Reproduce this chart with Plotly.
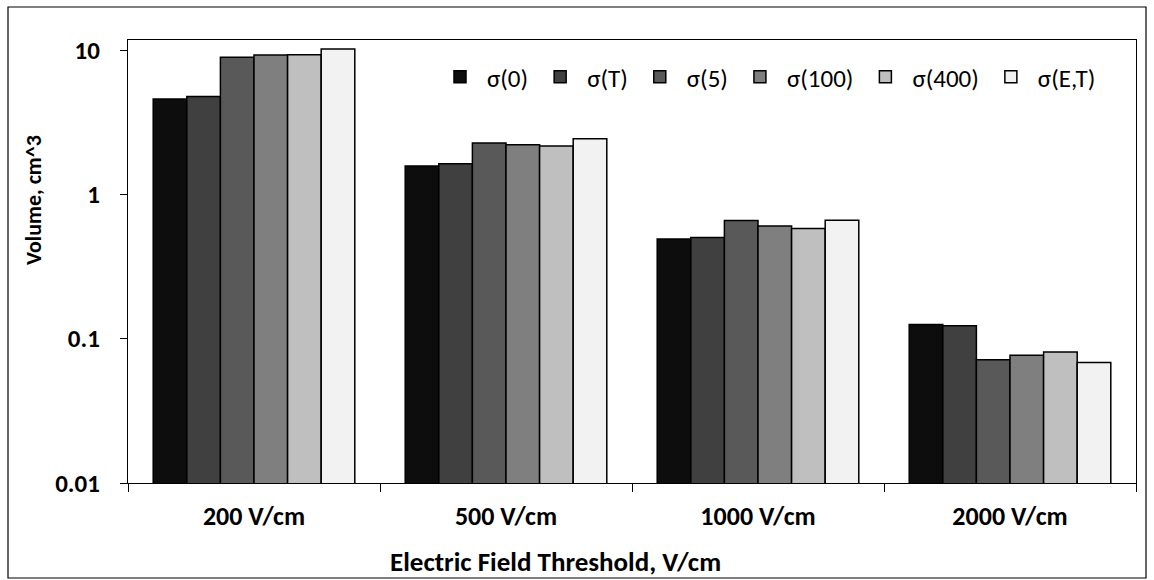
import plotly.graph_objects as go

# Electric field thresholds (categories)
thresholds = ["200 V/cm", "500 V/cm", "1000 V/cm", "2000 V/cm"]

# Volume (cm^3) for each conductivity model
sigma_0 = [4.57, 1.57, 0.49, 0.1256]
sigma_T = [4.76, 1.63, 0.503, 0.123]
sigma_5 = [8.9, 2.27, 0.659, 0.0713]
sigma_100 = [9.24, 2.21, 0.604, 0.0767]
sigma_400 = [9.28, 2.16, 0.58, 0.081]
sigma_ET = [10.16, 2.43, 0.662, 0.0683]

series_names = ["σ(0)", "σ(T)", "σ(5)", "σ(100)", "σ(400)", "σ(E,T)"]
series_values = [sigma_0, sigma_T, sigma_5, sigma_100, sigma_400, sigma_ET]
series_colors = ["#0d0d0d", "#404040", "#595959", "#7f7f7f", "#bfbfbf", "#f2f2f2"]

y_tick_vals = [0.01, 0.1, 1, 10]
y_tick_text = ["0.01", "0.1", "1", "10"]

FONT = "Carlito, Lato, sans-serif"

W, H = 1154, 580
ML, MR, MT, MB = 128, 18, 40, 97
PW, PH = W - ML - MR, H - MT - MB
DECADE = (H - MB - 50) / 3.0  # pixels per decade, 10 sits 50 px from the top


def px_x(p):
    return (p - ML) / PW


def px_y(p):
    return (H - MB - p) / PH


fig = go.Figure()
for name, vals, col in zip(series_names, series_values, series_colors):
    fig.add_trace(go.Bar(
        name=name, x=thresholds, y=vals,
        marker=dict(color=col, line=dict(color="#000000", width=1.5)),
    ))

# outer frame around the whole chart
fig.add_shape(type="rect", xref="paper", yref="paper",
              x0=px_x(8), x1=px_x(1146), y0=px_y(578), y1=px_y(7),
              line=dict(color="#000000", width=1.2), fillcolor="rgba(0,0,0,0)",
              layer="below")

# axis titles
fig.add_annotation(text="<b>Electric Field Threshold, V/cm</b>", xref="paper", yref="paper",
                   x=px_x(388), y=px_y(561), xanchor="left", yanchor="middle", showarrow=False,
                   font=dict(family=FONT, size=27, color="#000000"))
fig.add_annotation(text="<b>Volume, cm^3</b>", xref="paper", yref="paper",
                   x=px_x(34), y=px_y(200), xanchor="center", yanchor="middle", showarrow=False,
                   textangle=-90, font=dict(family=FONT, size=22, color="#000000"))

fig.update_layout(
    width=W, height=H,
    margin=dict(l=ML, r=MR, t=MT, b=MB),
    paper_bgcolor="white", plot_bgcolor="white",
    barmode="group", bargap=0.2, bargroupgap=0,
    font=dict(family=FONT, color="#000000"),
    showlegend=True,
    legend=dict(
        orientation="h", x=px_x(433), xanchor="left", y=px_y(77), yanchor="middle",
        font=dict(family=FONT, size=25, color="#000000"),
        bgcolor="rgba(0,0,0,0)", itemwidth=44, traceorder="normal",
    ),
    xaxis=dict(
        type="category", showline=True, linecolor="#000000", linewidth=1.2,
        mirror=True, ticks="outside", tickson="boundaries", ticklen=8,
        tickcolor="#000000", tickwidth=1, ticklabelstandoff=10,
        tickvals=thresholds, ticktext=["<b>%s</b>" % t for t in thresholds],
        tickfont=dict(family=FONT, size=26, color="#000000"),
        showgrid=False,
    ),
    yaxis=dict(
        type="log", range=[-2, 1 + 10 / DECADE], showline=True, linecolor="#000000",
        linewidth=1.2, mirror=True, ticks="outside", ticklen=7, tickcolor="#000000",
        ticklabelstandoff=15,
        tickvals=y_tick_vals, ticktext=["<b>%s</b>" % t for t in y_tick_text],
        tickfont=dict(family=FONT, size=25, color="#000000"),
        showgrid=False, zeroline=False,
    ),
)

fig.write_html("out.html")
